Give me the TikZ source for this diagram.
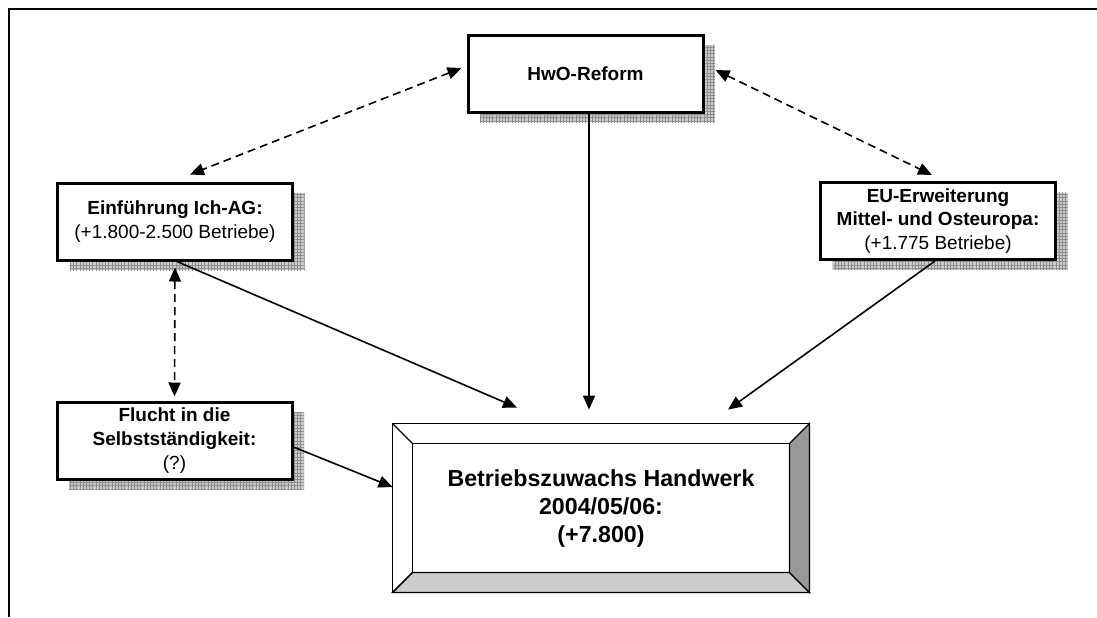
\documentclass[tikz,border=0pt]{standalone}
\usepackage{fontspec}
\setmainfont{Liberation Sans}
\usetikzlibrary{arrows.meta, calc, shadows, patterns.meta}
\tikzset{
  box/.style={draw, line width=1.5pt, fill=white, align=center, inner sep=1pt,
    minimum width=117.5pt, minimum height=38.5pt, font=\fontsize{9.5}{11.8}\selectfont,
    general shadow={shadow xshift=6pt, shadow yshift=-5pt, fill=gray!40},
    general shadow={shadow xshift=6pt, shadow yshift=-5pt,
      pattern={Hatch[angle=0, distance=1.6pt, line width=0.4pt]}, pattern color=gray!90}},
  arr/.style={-{Triangle[length=7pt, width=6pt]}, line width=0.8pt},
  darr/.style={{Triangle[length=7pt, width=6pt]}-{Triangle[length=7pt, width=6pt]},
    line width=0.8pt, dash pattern=on 4pt off 2.5pt},
  bevel/.style={draw, line width=0.6pt},
}

\begin{document}
\begin{tikzpicture}[x=0.5pt, y=-0.5pt]
    \useasboundingbox (0,0) rectangle (1097,617);
    \draw[line width=1.4pt] (1097,9) -- (9,9) -- (9,617);

    \node[box] (hwo) at (585.5,73.5) {\textbf{HwO-Reform}};
    \node[box] (ichag) at (175,221.5) {\textbf{Einführung Ich-AG:}\\(+1.800-2.500 Betriebe)};
    \node[box] (eu) at (938,221) {\textbf{EU-Erweiterung}\\\textbf{Mittel- und Osteuropa:}\\(+1.775 Betriebe)};
    \node[box] (flucht) at (174.5,440.5) {\textbf{Flucht in die}\\\textbf{Selbstständigkeit:}\\(?)};

    % framed result box
    \node[minimum width=208pt, minimum height=84pt, align=center,
      font=\fontsize{11.6}{14}\selectfont\bfseries] (total) at (601,508)
      {Betriebszuwachs Handwerk\\2004/05/06:\\(+7.800)};
    \filldraw[bevel, fill=black!20] (total.south west) -- (total.south east)
      -- ($(total.south east)+(-10pt,10pt)$) -- ($(total.south west)+(10pt,10pt)$) -- cycle;
    \filldraw[bevel, fill=black!40] (total.south east) -- (total.north east)
      -- ($(total.north east)+(-10pt,-10pt)$) -- ($(total.south east)+(-10pt,10pt)$) -- cycle;
    \draw[bevel] (total.north west) rectangle (total.south east);
    \draw[bevel] ($(total.north west)+(10pt,-10pt)$) rectangle ($(total.south east)+(-10pt,10pt)$);
    \draw[bevel] (total.north west) -- ++(10pt,-10pt);
    \draw[bevel] (total.south west) -- ++(10pt,10pt);

    \draw[darr] ([xshift=-2.5pt,yshift=2.75pt]hwo.west) -- ([xshift=7.5pt,yshift=3.5pt]ichag.north);
    \draw[darr] ([xshift=5.5pt,yshift=1.75pt]hwo.east) -- ([xshift=-3pt,yshift=3pt]eu.north);
    \draw[darr] ([yshift=-3pt]ichag.south) -- ([yshift=2pt]flucht.north);

    \draw[arr] ([xshift=1pt]ichag.south) -- ([xshift=-42pt,yshift=8pt]total.north);
    \draw[arr] ([xshift=1.75pt]hwo.south) -- ([xshift=-6pt,yshift=7pt]total.north);
    \draw[arr] ([xshift=-1.5pt]eu.south) -- ([xshift=63.5pt,yshift=7pt]total.north);
    \draw[arr] ([yshift=-3.25pt]flucht.east) -- ([yshift=10.5pt]total.west);
\end{tikzpicture}
\end{document}
